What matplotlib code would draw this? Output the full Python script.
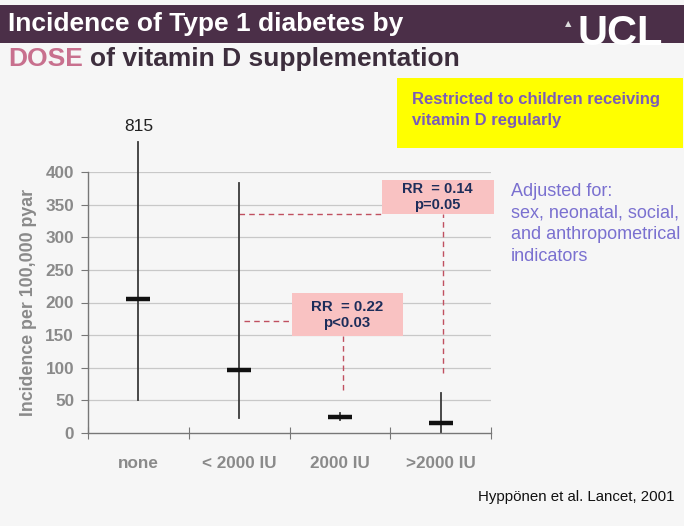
import matplotlib
matplotlib.use("Agg")
import matplotlib.pyplot as plt
from matplotlib.patches import Rectangle

plt.rcParams['font.family'] = ['Liberation Sans', 'DejaVu Sans']

# ---- data ----
categories = ["none", "< 2000 IU", "2000 IU", ">2000 IU"]
estimate = [205, 97, 25, 15]
ci_low = [50, 23, 20, 2]
ci_high = [815, 383, 30, 61]
axis_break = 446          # CI above this value is cut (labelled instead)
yticks = [0, 50, 100, 150, 200, 250, 300, 350, 400]
rr_labels = ["RR  = 0.22\np<0.03", "RR  = 0.14\np=0.05"]

bg = "#f6f6f6"
W, H = 684, 526
fig = plt.figure(figsize=(6.84, 5.26), dpi=100, facecolor=bg)

# title bar
fig.patches.append(Rectangle((0, 1 - 43/H), 1.0, 38/H, transform=fig.transFigure,
                             facecolor="#4b2f48", edgecolor="none", zorder=0))
fig.text(8/W, 1 - 24/H, "Incidence of Type 1 diabetes by", color="white",
         fontsize=19, fontweight="bold", va="center", ha="left")
dose = fig.text(8/W, 1 - 59/H, "DOSE", color="#c8708e", fontsize=19,
                fontweight="bold", va="center", ha="left")
fig.canvas.draw()
bb = dose.get_window_extent(renderer=fig.canvas.get_renderer())
fig.text((bb.x1 + 7) / W, 1 - 59/H, "of vitamin D supplementation", color="#3d2e3d",
         fontsize=19, fontweight="bold", va="center", ha="left")
fig.text(620/W, 1 - 34/H, "UCL", color="white", fontsize=30,
         fontweight="bold", va="center", ha="center", zorder=3)
fig.text(568/W, 1 - 24/H, "▲", color="#dddddd", fontsize=6,
         va="center", ha="center", family="DejaVu Sans")

# yellow note
fig.patches.append(Rectangle((397/W, 1 - 148/H), 286/W, 70/H,
                             transform=fig.transFigure, facecolor="#ffff00",
                             edgecolor="none", zorder=1))
fig.text(412/W, 1 - 110/H, "Restricted to children receiving\nvitamin D regularly",
         color="#7a5cb8", fontsize=12, fontweight="bold", va="center", ha="left",
         linespacing=1.55, zorder=2)

fig.text(511/W, 1 - 224/H,
         "Adjusted for:\nsex, neonatal, social,\nand anthropometrical\nindicators",
         color="#7a70d0", fontsize=13, va="center", ha="left", linespacing=1.38)

fig.text(675/W, 1 - 497/H, "Hyppönen et al. Lancet, 2001", color="#111111",
         fontsize=10.8, ha="right", va="center")

ax = fig.add_axes([88/W, 1 - 433/H, 403/W, 261/H])
ax.set_facecolor(bg)
ax.set_xlim(-0.5, 3.5)
ax.set_ylim(0, 400)
for s in ["top", "right"]:
    ax.spines[s].set_visible(False)
for s in ["left", "bottom"]:
    ax.spines[s].set_color("#777777")
    ax.spines[s].set_linewidth(1.0)
ax.set_yticks(yticks)
ax.set_yticklabels([str(v) for v in yticks], color="#8a8a8a", fontsize=12.3,
                   fontweight="bold")
ax.tick_params(axis="y", length=5, color="#777777", pad=5)
ax.set_xticks([-0.5, 0.5, 1.5, 2.5, 3.5])
ax.set_xticklabels([])
ax.tick_params(axis="x", direction="inout", length=8, color="#777777")
for i, c in enumerate(categories):
    ax.text(i, -46, c, color="#8a8a8a", fontsize=12.3, fontweight="bold",
            ha="center", va="center", clip_on=False)
for v in yticks[1:]:
    ax.axhline(v, color="#c8c8c8", lw=0.9, zorder=0)
ax.set_ylabel("Incidence per 100,000 pyar", color="#8a8a8a", fontsize=12.8,
              fontweight="bold", labelpad=6)

# CI lines and estimates
for i in range(len(categories)):
    hi = min(ci_high[i], axis_break)
    ax.plot([i, i], [ci_low[i], hi], color="#3a3a3a", lw=1.3, clip_on=False, zorder=3)
    ax.plot([i - 0.12, i + 0.12], [estimate[i], estimate[i]], color="#111111",
            lw=3.2, solid_capstyle="butt", zorder=4)
    if ci_high[i] > axis_break:
        ax.text(i, axis_break + 12, str(ci_high[i]), ha="center", va="bottom",
                fontsize=12.5, color="#222222", clip_on=False)

# annotation boxes
dash = dict(color="#c05060", lw=1.0, ls=(0, (4, 3)), zorder=2)
ax.add_patch(Rectangle((1.52, 149), 1.11, 65, facecolor="#f9c2c2", edgecolor="none",
                       zorder=3))
ax.text(2.07, 181, rr_labels[0], ha="center", va="center", color="#1d2d5a",
        fontsize=10.8, fontweight="bold", zorder=4)
ax.plot([1.05, 1.52], [172, 172], **dash)
ax.plot([2.03, 2.03], [66, 149], **dash)

ax.add_patch(Rectangle((2.42, 336), 1.11, 52, facecolor="#f9c2c2", edgecolor="none",
                       zorder=3, clip_on=False))
ax.text(2.97, 362, rr_labels[1], ha="center", va="center", color="#1d2d5a",
        fontsize=10.5, fontweight="bold", zorder=4, clip_on=False)
ax.plot([1.0, 2.42], [336, 336], **dash)
ax.plot([3.02, 3.02], [92, 336], **dash)

fig.savefig("out.png", dpi=100, facecolor=bg)
